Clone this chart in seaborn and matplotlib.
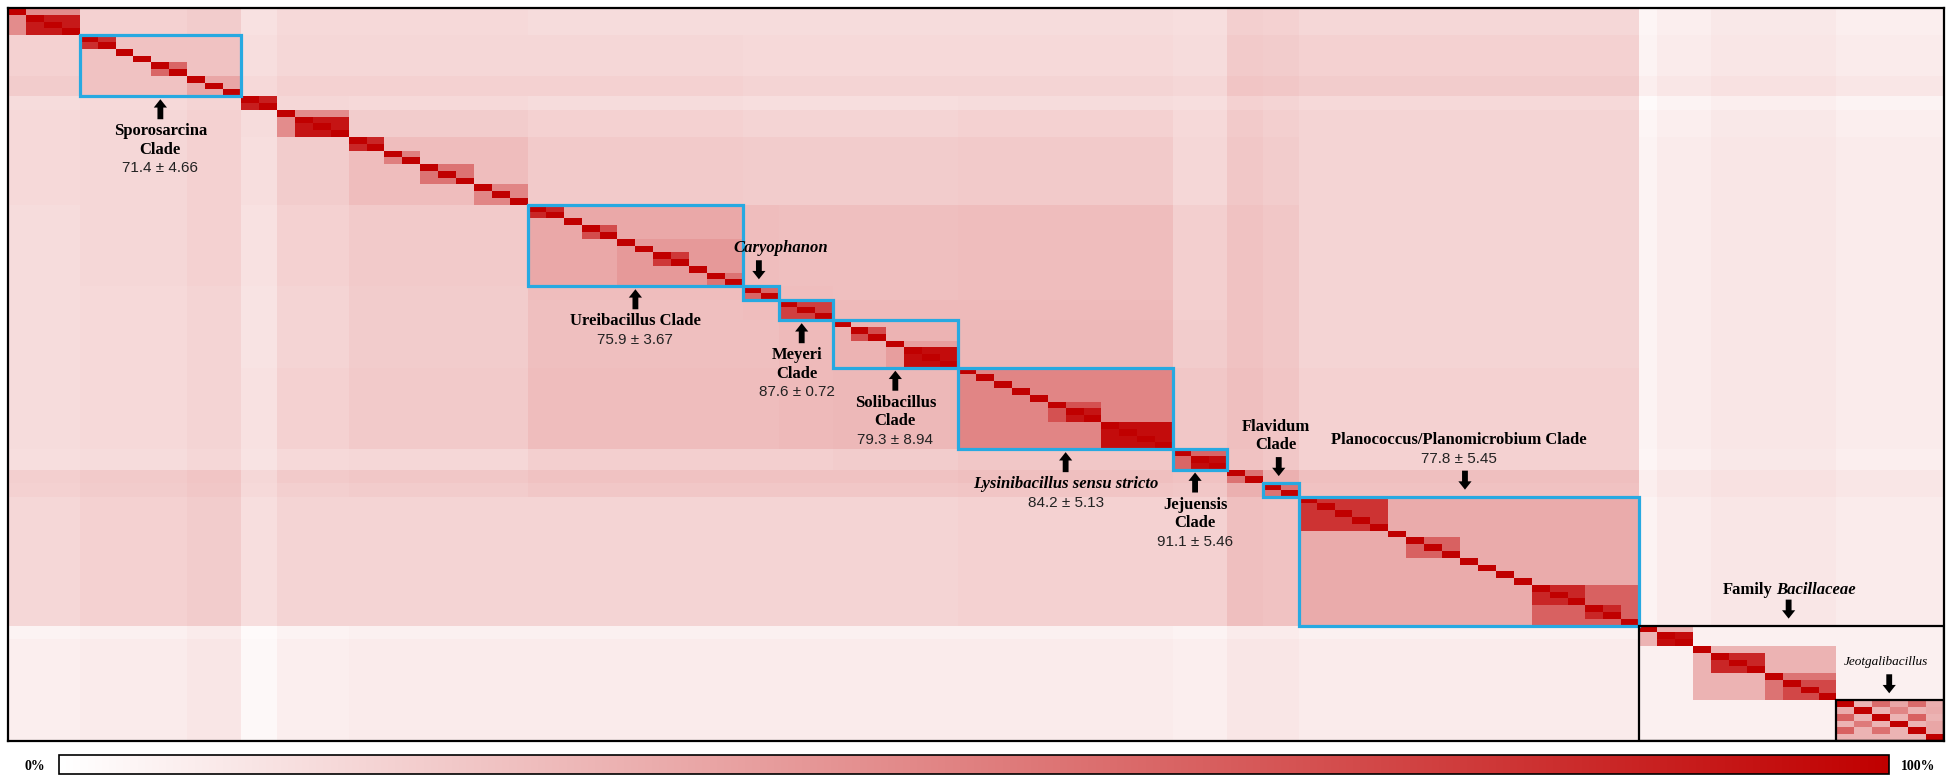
import numpy as np
import matplotlib
matplotlib.use("Agg")
import matplotlib.pyplot as plt
import matplotlib.transforms as mtransforms
from matplotlib.colors import LinearSegmentedColormap
from matplotlib.patches import Rectangle
import seaborn as sns

# ---------------- data ----------------
# clusters along the diagonal (number of genomes in each)
group_names = ["G0", "Sporosarcina", "G2", "G3", "G4", "Ureibacillus", "Caryophanon",
               "Meyeri", "Solibacillus", "Lysinibacillus", "Jejuensis", "G11",
               "Flavidum", "Planococcus", "Bacillaceae"]
group_sizes = [4, 9, 2, 4, 10, 12, 2, 3, 7, 12, 3, 2, 2, 19, 17]

# similarity (%) inside each cluster (background of the block)
within_pct = [45, 24, 88, 45, 26, 34, 60, 75, 30, 48, 60, 55, 55, 33, 6]

# similarity (%) between clusters, upper triangle (row i, columns i+1 ...)
between_upper = [
    [18, 14, 15, 15, 14, 14, 14, 14, 14, 13, 17, 16, 16, 7],
    [15, 16, 16, 16, 15, 15, 15, 15, 14, 19, 18, 18, 8],
    [16, 15, 14, 13, 13, 13, 14, 13, 16, 15, 15, 5],
    [20, 18, 17, 17, 17, 18, 15, 19, 17, 17, 7],
    [21, 20, 20, 20, 21, 16, 20, 18, 17, 8],
    [26, 25, 25, 26, 19, 22, 20, 17, 8],
    [26, 25, 26, 19, 22, 20, 17, 8],
    [27, 27, 19, 22, 20, 17, 8],
    [28, 20, 22, 20, 17, 8],
    [22, 23, 21, 18, 8],
    [22, 20, 18, 7],
    [27, 23, 8],
    [22, 8],
    [8],
]

# darker sub-clusters (first genome, end genome, %)
sub_blocks = [
    (1, 4, 90),
    (4, 6, 82), (8, 10, 60), (10, 13, 35),
    (16, 19, 92),
    (19, 21, 85), (21, 23, 50), (23, 26, 55), (26, 29, 48),
    (34, 41, 40), (29, 31, 85), (32, 34, 70), (36, 38, 78), (39, 41, 55),
    (47, 49, 70), (49, 53, 38), (50, 53, 95),
    (58, 61, 68), (59, 61, 92), (61, 65, 95),
    (66, 68, 95),
    (72, 77, 80), (78, 81, 62), (85, 91, 62), (85, 88, 85), (88, 90, 85),
    (91, 94, 30), (92, 94, 95), (94, 102, 30), (95, 98, 85), (98, 102, 55), (99, 102, 72),
]

# Jeotgalibacillus block (genomes 102-107)
jeot_start = 102
jeot_pct = [
    [100, 30, 58, 35, 58, 32],
    [33, 100, 30, 48, 30, 33],
    [62, 30, 100, 30, 62, 30],
    [30, 52, 30, 100, 30, 35],
    [62, 30, 56, 30, 100, 35],
    [30, 30, 30, 30, 30, 100],
]

# light / dark stripes between clusters (start, end, change in %)
col_tint = [(10, 13, 2), (13, 15, -2), (68, 72, 2), (91, 92, -3), (95, 102, 2)]
row_tint = [(10, 13, 2), (68, 72, 2), (91, 93, -2)]

# boxes
blue_boxes = [(4, 13), (29, 41), (41, 43), (43, 46), (46, 53), (53, 65), (65, 68), (70, 72), (72, 91)]
black_boxes = [(91, 108), (102, 108)]

# labels: box, side, text dx, arrow dx, lines (text, style)
annotations = [
    ((4, 13), "below", 0, 0, [("Sporosarcina", "b"), ("Clade", "b"), ("71.4 ± 4.66", "v")]),
    ((29, 41), "below", 0, 0, [("Ureibacillus Clade", "b"), ("75.9 ± 3.67", "v")]),
    ((41, 43), "above", 20, -2, [("Caryophanon", "bi")]),
    ((43, 46), "below", -9, -4, [("Meyeri", "b"), ("Clade", "b"), ("87.6 ± 0.72", "v")]),
    ((46, 53), "below", 0, 0, [("Solibacillus", "b"), ("Clade", "b"), ("79.3 ± 8.94", "v")]),
    ((53, 65), "below", 0, 0, [("Lysinibacillus sensu stricto", "bi"), ("84.2 ± 5.13", "v")]),
    ((65, 68), "below", -5, -5, [("Jejuensis", "b"), ("Clade", "b"), ("91.1 ± 5.46", "v")]),
    ((70, 72), "above", -5, -2, [("Flavidum", "b"), ("Clade", "b")]),
    ((72, 91), "above", -10, -4, [("Planococcus/Planomicrobium Clade", "b"), ("77.8 ± 5.45", "v")]),
    ((102, 108), "above", -4, -1, [("Jeotgalibacillus", "i")]),
]

# ---------------- matrix ----------------
n_groups = len(group_sizes)
B = np.zeros((n_groups, n_groups))
for i, row in enumerate(between_upper):
    for k, v in enumerate(row):
        j = i + 1 + k
        B[i, j] = v
        B[j, i] = v
grp = np.repeat(np.arange(n_groups), group_sizes)
N = len(grp)
M = B[grp][:, grp].astype(float)
off_group = grp[:, None] != grp[None, :]
for a, b, d in col_tint:
    sub = np.zeros_like(M, dtype=bool)
    sub[:, a:b] = True
    M[sub & off_group] += d
for a, b, d in row_tint:
    sub = np.zeros_like(M, dtype=bool)
    sub[a:b, :] = True
    M[sub & off_group] += d
starts = np.concatenate([[0], np.cumsum(group_sizes)])
for g in range(n_groups):
    s, e = starts[g], starts[g + 1]
    M[s:e, s:e] = within_pct[g]
for s, e, v in sub_blocks:
    M[s:e, s:e] = v
jp = np.array(jeot_pct, dtype=float)
M[jeot_start:jeot_start + 6, jeot_start:jeot_start + 6] = jp
np.fill_diagonal(M, 100)
M = np.clip(M, 2, 100)

# ---------------- figure ----------------
W, H = 1950, 781
fig = plt.figure(figsize=(W / 100, H / 100), dpi=100)
ax = fig.add_axes([8 / W, 40 / H, 1936 / W, 733 / H])
cax = fig.add_axes([59 / W, 7 / H, 1830 / W, 19 / H])

cmap = LinearSegmentedColormap.from_list("wr", ["#FFFFFF", "#C00000"])
sns.heatmap(M, ax=ax, cmap=cmap, vmin=0, vmax=100, cbar_ax=cax,
            cbar_kws=dict(orientation="horizontal"),
            xticklabels=False, yticklabels=False)
ax.set_xlabel("")
ax.set_ylabel("")
for sp in ax.spines.values():
    sp.set_visible(True)
    sp.set_color("black")
    sp.set_linewidth(1.6)

cax.set_xticks([])
cax.set_yticks([])
cb = ax.collections[0].colorbar
cb.outline.set_edgecolor("black")
cb.outline.set_linewidth(1.2)

for s, e in blue_boxes:
    ax.add_patch(Rectangle((s, s), e - s, e - s, fill=False, ec="#27A9E1", lw=2.3, zorder=5))
for s, e in black_boxes:
    ax.add_patch(Rectangle((s, s), e - s, e - s, fill=False, ec="black", lw=1.6, zorder=6))

SERIF = "Liberation Serif"
SANS = "Liberation Sans"
styles = {
    "b": dict(family=SERIF, weight="bold", style="normal", size=12, color="black"),
    "bi": dict(family=SERIF, weight="bold", style="italic", size=12, color="black"),
    "i": dict(family=SERIF, weight="normal", style="italic", size=9.5, color="black"),
    "v": dict(family=SANS, weight="normal", style="normal", size=11, color="#222222"),
}


def off(dx, dy):
    # dy > 0 moves down on the page (pixels)
    return mtransforms.offset_copy(ax.transData, fig=fig, x=dx, y=-dy, units="dots")


def arrow(x, edge, side, dx):
    if side == "below":
        tip, tail = 3, 23
    else:
        tip, tail = -7, -26
    ax.annotate("", xy=(x, edge), xycoords=off(dx, tip),
                xytext=(x, edge), textcoords=off(dx, tail),
                arrowprops=dict(arrowstyle="simple,head_length=0.6,head_width=0.95,tail_width=0.42",
                                mutation_scale=10, fc="black", ec="black", lw=0,
                                shrinkA=0, shrinkB=0))


for (s, e), side, tdx, adx, lines in annotations:
    xc = (s + e) / 2
    edge = e if side == "below" else s
    arrow(xc, edge, side, adx)
    nl = len(lines)
    for k, (txt, st) in enumerate(lines):
        if side == "below":
            dy = 35 + 18.5 * k
        else:
            dy = -38 - 18.5 * (nl - 1 - k)
        p = styles[st]
        ax.text(xc, edge, txt, transform=off(tdx, dy), ha="center", va="center",
                fontfamily=p["family"], fontweight=p["weight"], fontstyle=p["style"],
                fontsize=p["size"], color=p["color"], zorder=7)

# Family Bacillaceae label
fs, fe = black_boxes[0]
fx = (fs + fe) / 2
arrow(fx, fs, "above", -3)
ax.text(fx, fs, "Family", transform=off(-19, -36), ha="right", va="center",
        fontfamily=SERIF, fontweight="bold", fontsize=12, zorder=7)
ax.text(fx, fs, "Bacillaceae", transform=off(-15, -36), ha="left", va="center",
        fontfamily=SERIF, fontweight="bold", fontstyle="italic", fontsize=12, zorder=7)

# colour bar end labels
fig.text(35 / W, 1 - 766 / H, "0%", ha="center", va="center",
         fontfamily=SERIF, fontweight="bold", fontsize=10)
fig.text(1918 / W, 1 - 766 / H, "100%", ha="center", va="center",
         fontfamily=SERIF, fontweight="bold", fontsize=10)

fig.savefig("out.png", dpi=100)
